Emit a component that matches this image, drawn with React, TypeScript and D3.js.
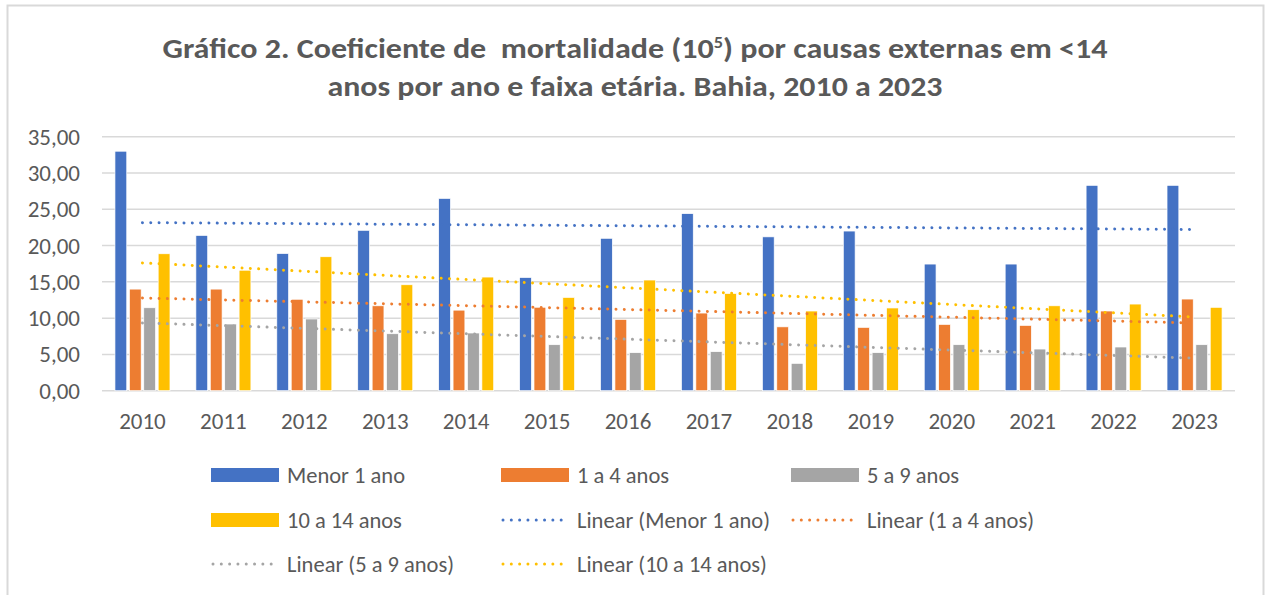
import React, { useEffect, useRef } from 'react';
import * as d3 from 'd3';

// Chart data
const years = ['2010', '2011', '2012', '2013', '2014', '2015', '2016', '2017', '2018', '2019', '2020', '2021', '2022', '2023'];
const seriesNames = ['Menor 1 ano', '1 a 4 anos', '5 a 9 anos', '10 a 14 anos'];
const menor1 = [33.0, 21.4, 18.9, 22.1, 26.5, 15.6, 21.0, 24.4, 21.2, 22.0, 17.45, 17.45, 28.3, 28.3];
const anos1a4 = [14.0, 14.0, 12.6, 11.7, 11.1, 11.5, 9.83, 10.7, 8.8, 8.73, 9.14, 9.0, 10.98, 12.63];
const anos5a9 = [11.43, 9.19, 9.88, 7.85, 7.95, 6.34, 5.24, 5.38, 3.77, 5.24, 6.34, 5.74, 6.02, 6.34];
const anos10a14 = [18.87, 16.6, 18.46, 14.6, 15.66, 12.86, 15.25, 13.4, 10.98, 11.4, 11.16, 11.7, 11.94, 11.49];
const yTicks = [0, 5, 10, 15, 20, 25, 30, 35];
const colors = ['#4472C4', '#ED7D31', '#A5A5A5', '#FFC000'];

const FONT = 'Calibri, Carlito, Lato, sans-serif';
const TEXT = '#595959';

function App() {
    const svgRef = useRef<SVGSVGElement>(null);

    useEffect(() => {
        const svg = d3.select(svgRef.current);
        svg.selectAll('*').remove();

        const values = [menor1, anos1a4, anos5a9, anos10a14];

        // chart area border
        svg.append('rect')
            .attr('x', 7.5).attr('y', 5.5)
            .attr('width', 1256).attr('height', 620)
            .attr('fill', '#fff')
            .attr('stroke', '#d9d9d9').attr('stroke-width', 2);

        // title
        const t1 = svg.append('text')
            .attr('x', 635).attr('y', 58)
            .attr('text-anchor', 'middle')
            .attr('font-family', FONT).attr('font-weight', 'bold')
            .attr('font-size', 28).attr('fill', TEXT)
            .style('white-space', 'pre')
            .attr('textLength', 945).attr('lengthAdjust', 'spacingAndGlyphs');
        t1.append('tspan').text('Gráfico 2. Coeficiente de  mortalidade (10');
        t1.append('tspan').attr('font-size', 16).attr('dy', -10).text('5');
        t1.append('tspan').attr('dy', 10).text(') por causas externas em <14');
        svg.append('text')
            .attr('x', 635).attr('y', 96)
            .attr('text-anchor', 'middle')
            .attr('font-family', FONT).attr('font-weight', 'bold')
            .attr('font-size', 28).attr('fill', TEXT)
            .attr('textLength', 615).attr('lengthAdjust', 'spacingAndGlyphs')
            .text('anos por ano e faixa etária. Bahia, 2010 a 2023');

        // scales
        const x = d3.scaleBand().domain(years).range([102, 1235])
            .paddingInner(0.32).paddingOuter(0.16);
        const xs = d3.scaleBand().domain(seriesNames).range([0, x.bandwidth()])
            .paddingInner(0.18);
        const y = d3.scaleLinear().domain([0, 35]).range([390.7, 136.7]);
        const fmt = (v: number) => d3.format('.2f')(v).replace('.', ',');

        // gridlines
        svg.append('g').selectAll('line').data(yTicks).enter().append('line')
            .attr('x1', 102).attr('x2', 1235)
            .attr('y1', d => y(d)).attr('y2', d => y(d))
            .attr('stroke', '#d9d9d9').attr('stroke-width', 1.5);

        // y labels
        svg.append('g').selectAll('text').data(yTicks).enter().append('text')
            .attr('x', 80).attr('y', d => y(d))
            .attr('dy', '0.35em')
            .attr('text-anchor', 'end')
            .attr('font-family', FONT).attr('font-size', 23).attr('fill', TEXT)
            .text(d => fmt(d));

        // x labels
        svg.append('g').selectAll('text').data(years).enter().append('text')
            .attr('x', d => (x(d) as number) + x.bandwidth() / 2)
            .attr('y', 429)
            .attr('text-anchor', 'middle')
            .attr('font-family', FONT).attr('font-size', 23).attr('fill', TEXT)
            .text(d => d);

        // bars
        seriesNames.forEach((name, si) => {
            svg.append('g').selectAll('rect').data(values[si]).enter().append('rect')
                .attr('x', (_, i) => (x(years[i]) as number) + (xs(name) as number))
                .attr('y', d => y(d))
                .attr('width', xs.bandwidth())
                .attr('height', d => y(0) - y(d))
                .attr('fill', colors[si])
                .attr('stroke', '#fff').attr('stroke-width', 0.7);
        });

        // linear trendlines
        seriesNames.forEach((name, si) => {
            const vals = values[si];
            const n = vals.length;
            const idx = vals.map((_, i) => i);
            const mx = d3.mean(idx) as number;
            const my = d3.mean(vals) as number;
            const slope = d3.sum(idx, i => (i - mx) * (vals[i] - my)) / d3.sum(idx, i => (i - mx) ** 2);
            const b = my - slope * mx;
            const cx = (i: number) => (x(years[i]) as number) + x.bandwidth() / 2;
            svg.append('line')
                .attr('x1', cx(0)).attr('y1', y(b))
                .attr('x2', cx(n - 1)).attr('y2', y(b + slope * (n - 1)))
                .attr('stroke', colors[si]).attr('stroke-width', 3)
                .attr('stroke-linecap', 'round')
                .attr('stroke-dasharray', '0.01 8.3');
        });

        // legend
        const legendItems = [
            { label: 'Menor 1 ano', si: 0, kind: 'bar' },
            { label: '1 a 4 anos', si: 1, kind: 'bar' },
            { label: '5 a 9 anos', si: 2, kind: 'bar' },
            { label: '10 a 14 anos', si: 3, kind: 'bar' },
            { label: 'Linear (Menor 1 ano)', si: 0, kind: 'line' },
            { label: 'Linear (1 a 4 anos)', si: 1, kind: 'line' },
            { label: 'Linear (5 a 9 anos)', si: 2, kind: 'line' },
            { label: 'Linear (10 a 14 anos)', si: 3, kind: 'line' },
        ];
        const colX = [211, 501, 791];
        const rowY = [475, 520, 564];
        legendItems.forEach((item, k) => {
            const lx = colX[k % 3];
            const ly = rowY[Math.floor(k / 3)];
            const g = svg.append('g');
            if (item.kind === 'bar') {
                g.append('rect')
                    .attr('x', lx).attr('y', ly - 7)
                    .attr('width', 68).attr('height', 14)
                    .attr('fill', colors[item.si]);
            } else {
                g.append('line')
                    .attr('x1', lx + 2).attr('x2', lx + 68)
                    .attr('y1', ly).attr('y2', ly)
                    .attr('stroke', colors[item.si]).attr('stroke-width', 3)
                    .attr('stroke-linecap', 'round')
                    .attr('stroke-dasharray', '0.01 8.3');
            }
            g.append('text')
                .attr('x', lx + 76).attr('y', ly)
                .attr('dy', '0.35em')
                .attr('font-family', FONT).attr('font-size', 22.5).attr('fill', TEXT)
                .text(item.label);
        });
    }, []);

    return (
        <div>
            <svg ref={svgRef} width={1269} height={595}
                style={{ position: 'absolute', left: 0, top: 0, background: '#fff' }} />
        </div>
    );
}

export default App;
